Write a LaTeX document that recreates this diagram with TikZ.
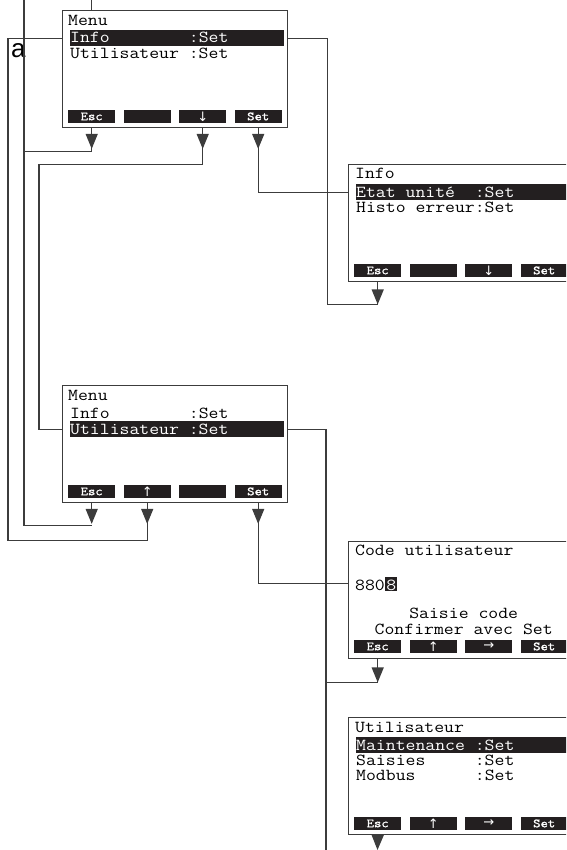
\documentclass[tikz,border=0pt]{standalone}
\usepackage{fontspec}
\setmainfont{Liberation Sans}
\newfontfamily\lcd{Latin Modern Mono}[FakeStretch=1.143]
\newfontfamily\lcdtouche{Latin Modern Mono}[FakeStretch=1.143, FakeBold=1.2]
\newfontfamily\fleches{DejaVu Sans}
\usepackage{tikz}
\usetikzlibrary{arrows.meta,positioning,calc}
\definecolor{trait}{HTML}{3C3C3C}
\definecolor{noir}{HTML}{231F20}
\tikzset{
  ecran/.style    = {draw=trait, line width=1.4pt, anchor=north west,
                     minimum width=225pt, minimum height=117pt, inner sep=0pt},
  ligne/.style    = {anchor=base west, inner sep=0pt,
                     font=\lcd\fontsize{16.8}{16}\selectfont},
  ligneinv/.style = {ligne, text=white},
  barre/.style    = {fill=noir, anchor=north west, minimum width=214pt,
                     minimum height=16pt, inner sep=0pt},
  touche/.style   = {fill=noir, text=white, anchor=north west, inner sep=0pt,
                     minimum width=47pt, minimum height=12.5pt,
                     font=\lcdtouche\fontsize{12.5}{12}\selectfont},
  lien/.style     = {draw=trait, line width=1.2pt},
  fleche/.style   = {lien, -{Triangle[length=15pt,width=12pt]}},
  repere/.style   = {font=\fontsize{26}{26}\selectfont, inner sep=0pt,
                     anchor=base west},
}
\newcommand\fl[1]{{\fleches\fontsize{13}{13}\selectfont #1}}

\begin{document}
\begin{tikzpicture}[x=1pt, y=-1pt]
  \useasboundingbox (0,0) rectangle (566,850);
  \clip (0,0) rectangle (566,850);
  % bords de la page
  \coordinate (hautA) at (24,0);
  \coordinate (hautB) at (91.5,0);
  \coordinate (basC) at (326,850);
  \coordinate (basD) at (377.5,850);

  % Menu, Info choisi
  \node[ecran] (m1) at (62,10) {};
  \node[barre] (m1bar) at ($(m1.north west)+(8,20)$) {};
  \node[ligne] (m1l1) at ($(m1.north west)+(6,15.5)$) {Menu};
  \node[ligneinv] (m1l2) at ($(m1.north west)+(8,33)$) {Info~~~~~~~~:Set};
  \node[ligne] (m1l3) at ($(m1.north west)+(8,49)$) {Utilisateur~:Set};
  \foreach \k/\t [count=\i from 0] in {esc/Esc,vide/,bas/\fl{↓},set/Set}
    \node[touche] (m1-\k) at ($(m1.north west)+(6+55.5*\i,100)$) {\t};
  \node[repere] (a) at (11,57.5) {a};

  % Info
  \node[ecran] (inf) at (348,164) {};
  \node[barre] (infbar) at ($(inf.north west)+(8,20)$) {};
  \node[ligne] (infl1) at ($(inf.north west)+(7,15)$) {Info};
  \node[ligneinv] (infl2) at ($(inf.north west)+(8,33)$) {Etat unité~~:Set};
  \node[ligne] (infl3) at ($(inf.north west)+(8,49)$) {Histo erreur:Set};
  \foreach \k/\t [count=\i from 0] in {esc/Esc,vide/,bas/\fl{↓},set/Set}
    \node[touche] (inf-\k) at ($(inf.north west)+(6+55.5*\i,100)$) {\t};

  % Menu, Utilisateur choisi
  \node[ecran] (m2) at (62,385) {};
  \node[barre] (m2bar) at ($(m2.north west)+(8,36)$) {};
  \node[ligne] (m2l1) at ($(m2.north west)+(6,15.5)$) {Menu};
  \node[ligne] (m2l2) at ($(m2.north west)+(8,33)$) {Info~~~~~~~~:Set};
  \node[ligneinv] (m2l3) at ($(m2.north west)+(8,49)$) {Utilisateur~:Set};
  \foreach \k/\t [count=\i from 0] in {esc/Esc,haut/\fl{↑},vide/,set/Set}
    \node[touche] (m2-\k) at ($(m2.north west)+(6+55.5*\i,100)$) {\t};

  % Code utilisateur
  \node[ecran] (cod) at (348,541) {};
  \node[ligne] (codl1) at ($(cod.north west)+(7,14.5)$) {Code utilisateur};
  \node[ligne] (cod880) at ($(cod.north west)+(7,49)$) {880};
  \node[ligneinv, fill=noir, inner xsep=1pt, text height=13.5pt, text depth=1pt]
    (codhl) at (cod880.base east) {8};
  \node[ligne, anchor=base] (codl3) at ($(cod.north)+(2.5,77)$) {Saisie code};
  \node[ligne, anchor=base] (codl4) at ($(cod.north)+(2.5,93)$) {Confirmer avec Set};
  \foreach \k/\t [count=\i from 0] in {esc/Esc,haut/\fl{↑},droite/\fl{→},set/Set}
    \node[touche] (cod-\k) at ($(cod.north west)+(6+55.5*\i,99)$) {\t};

  % Utilisateur
  \node[ecran] (uti) at (348,717) {};
  \node[barre] (utibar) at ($(uti.north west)+(8,20)$) {};
  \node[ligne] (util1) at ($(uti.north west)+(7,15)$) {Utilisateur};
  \node[ligneinv] (util2) at ($(uti.north west)+(8,33)$) {Maintenance~:Set};
  \node[ligne] (util3) at ($(uti.north west)+(8,48.5)$) {Saisies~~~~~:Set};
  \node[ligne] (util4) at ($(uti.north west)+(8,63.5)$) {Modbus~~~~~~:Set};
  \foreach \k/\t [count=\i from 0] in {esc/Esc,haut/\fl{↑},droite/\fl{→},set/Set}
    \node[touche] (uti-\k) at ($(uti.north west)+(6+55.5*\i,100)$) {\t};

  % liaisons
  \draw[lien] (hautB) -- (hautB |- m1.north);
  \draw[lien] (hautA) |- ($(m2-esc.south |- m2.south)+(0,22)$);
  \draw[lien] (m1-esc.south |- m1.south) -- ++(0,23) -| (hautA);
  \draw[lien] (m1.west |- m1bar) -- ++(-54,0)
    |- ($(m2-haut.south |- m2.south)+(0,37)$) -- (m2-haut.south |- m2.south);
  \draw[lien] (m1-bas.south |- m1.south) -- ++(0,36)
    -| ($(m2.west |- m2bar)+(-23,0)$) -- (m2.west |- m2bar);
  \draw[lien] (m1-set.south |- m1.south) |- (inf.west |- infbar);
  \draw[lien] (inf-esc.south |- inf.south) -- ++(0,22)
    -| ($(m1.east |- m1bar)+(39,0)$) -- (m1.east |- m1bar);
  \draw[lien] (m2-set.south |- m2.south) |- (cod.west |- codhl);
  \draw[lien] (m2.east |- m2bar) -| (basC);
  \draw[lien] (cod-esc.south |- cod.south) -- ++(0,23) -| (basC);

  % fleches sous les touches
  \foreach \n in {m1-esc,m1-bas,m1-set,m2-esc,m2-haut,m2-set}
    \draw[fleche] (\n.south) ++(0,5) -- ++(0,21);
  \draw[fleche] (inf-esc.south |- inf.south) -- ++(0,22);
  \draw[fleche] (cod-esc.south |- cod.south) -- ++(0,23);
  \draw[fleche] (uti-esc.south |- uti.south) -- (basD);
\end{tikzpicture}
\end{document}
